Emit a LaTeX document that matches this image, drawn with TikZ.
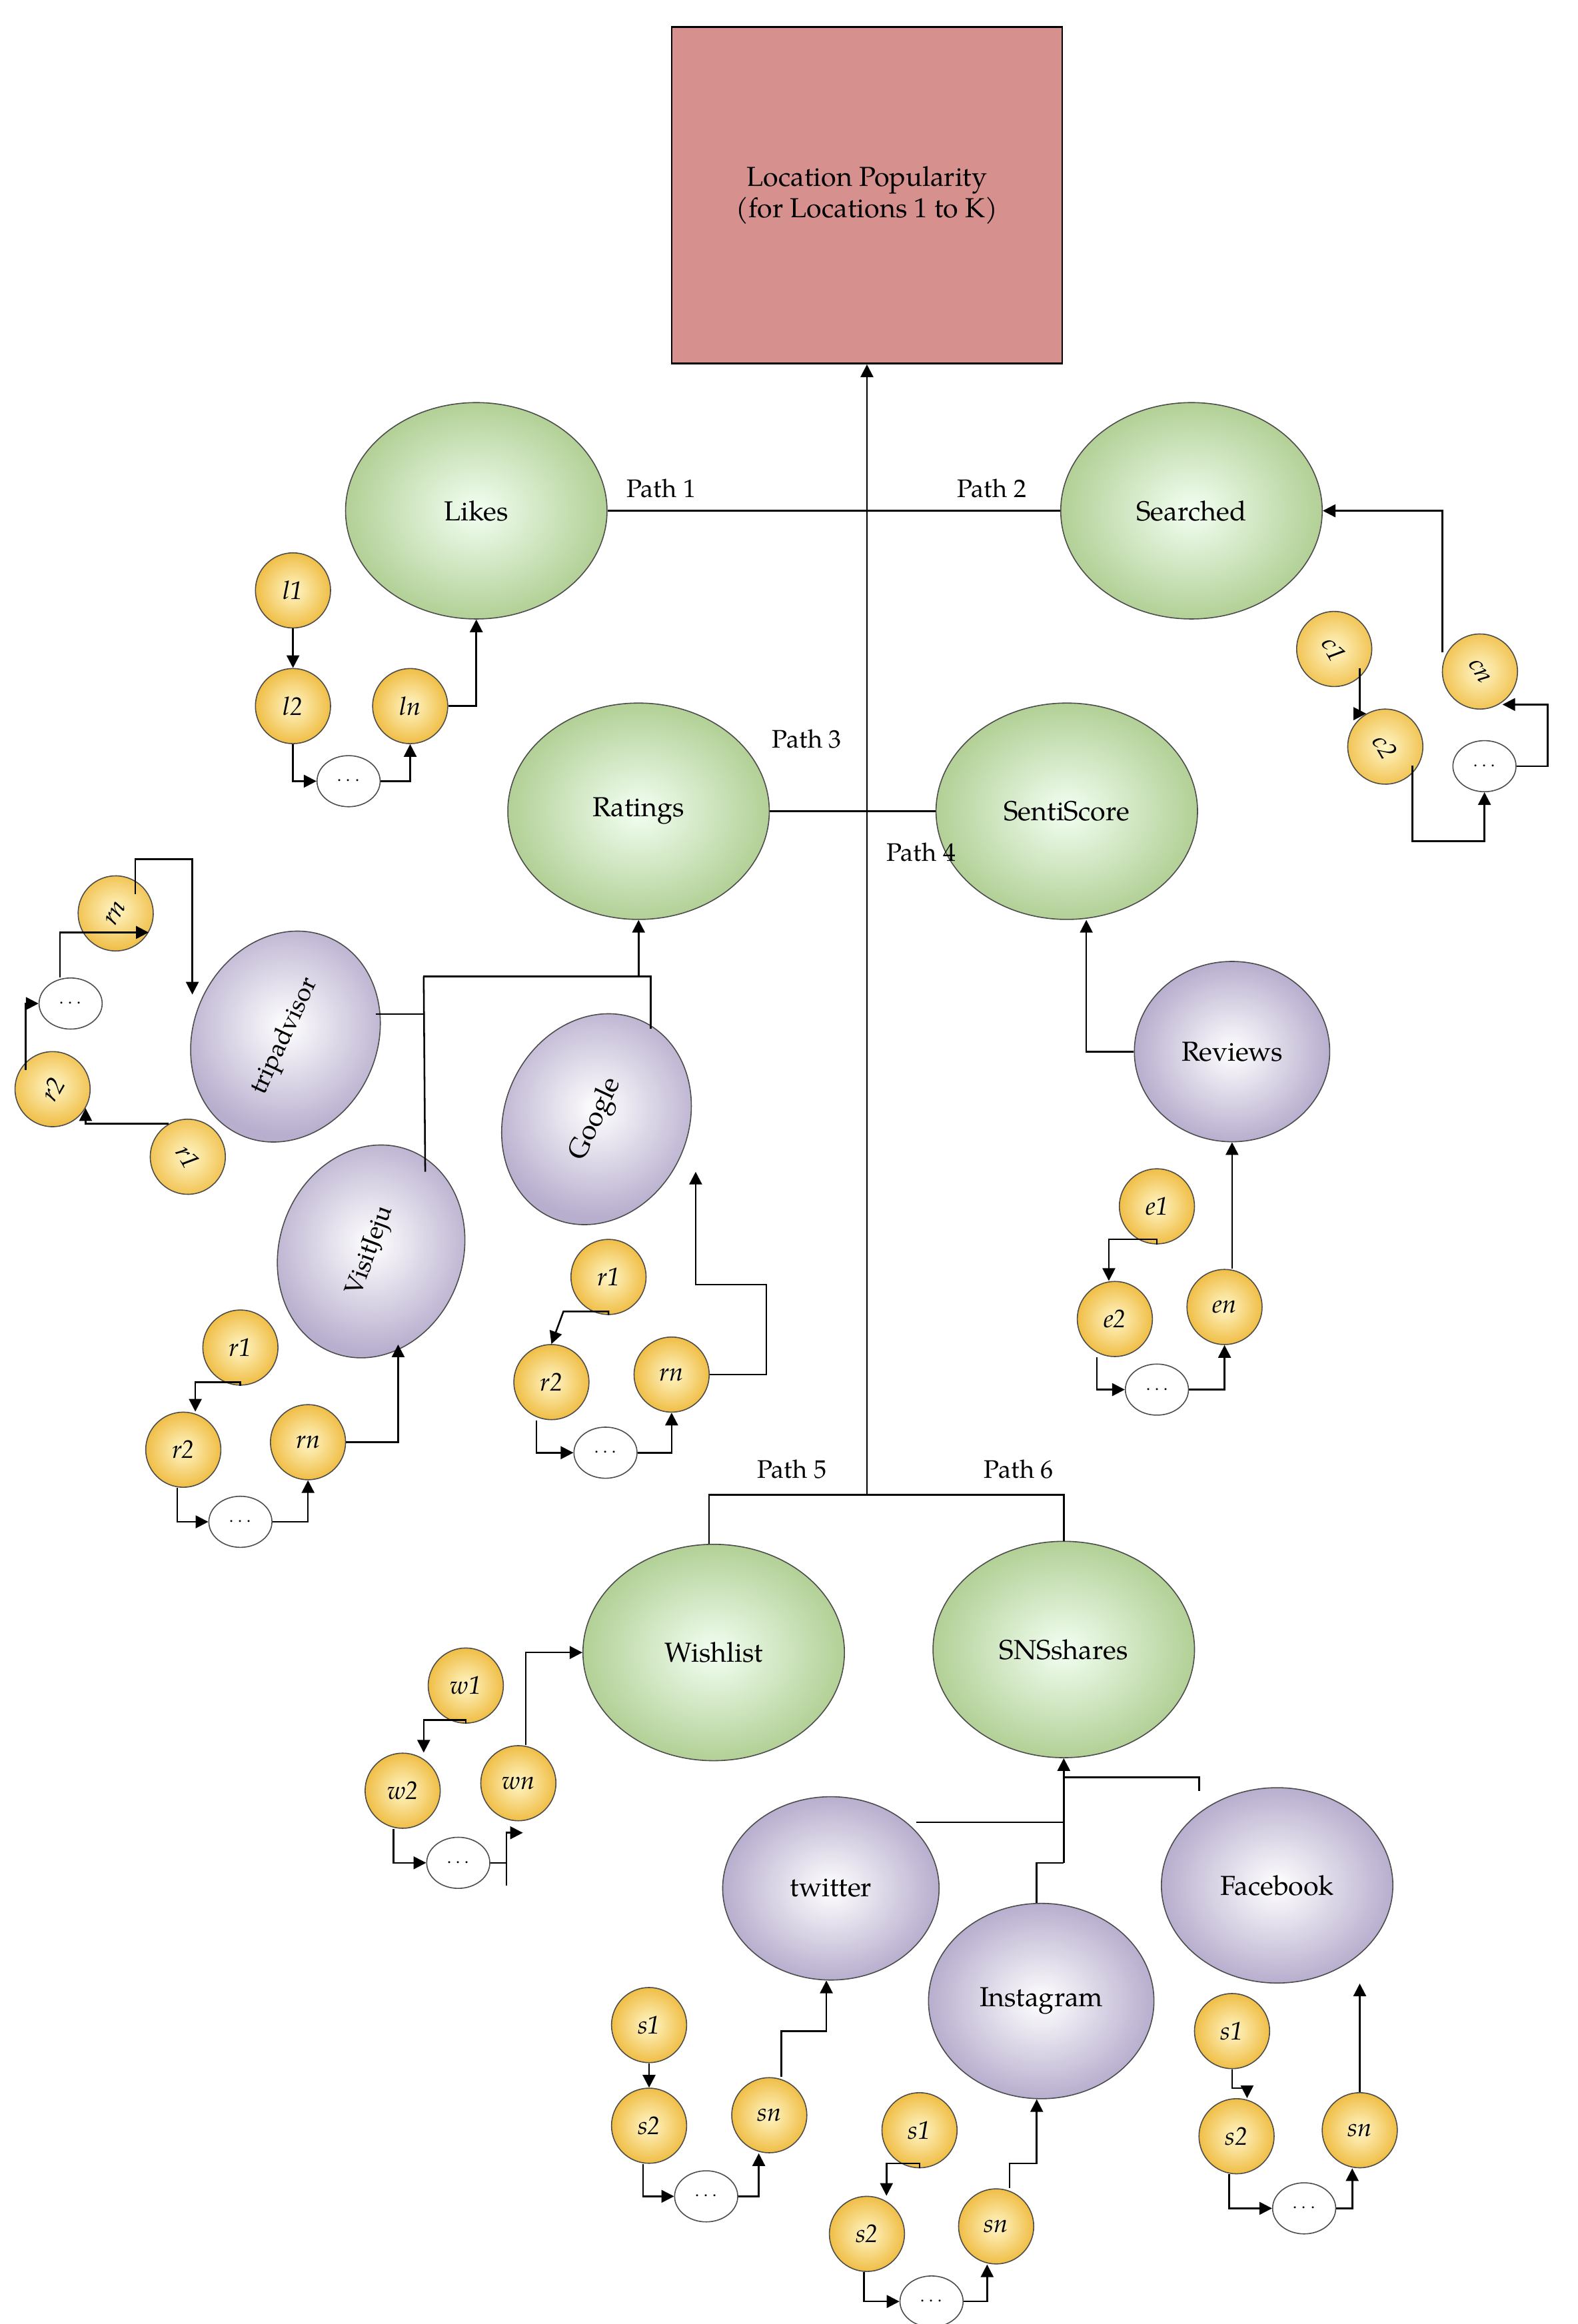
\documentclass[tikz,border=0pt]{standalone}
\usepackage{fontspec}
\setmainfont{TeX Gyre Pagella}
\usetikzlibrary{shapes.geometric,arrows.meta}
\begin{document}
\begin{tikzpicture}[x=0.025cm,y=-0.025cm,
  every node/.style={font=\fontsize{13}{15}\selectfont},
  ln/.style={line width=0.8pt},
  ar/.style={line width=0.8pt,-{Triangle[length=6pt,width=6pt]}},
  big/.style={ellipse,draw=black!70,line width=0.5pt,minimum width=4.35cm,minimum height=3.6cm,inner color=green!5,outer color={rgb,255:red,178;green,208;blue,150}},
  mid/.style={ellipse,draw=black!70,line width=0.5pt,minimum width=3.6cm,minimum height=3.05cm,inner color=white,outer color={rgb,255:red,184;green,174;blue,206}},
  sm/.style={circle,draw=black!70,line width=0.5pt,minimum size=1.25cm,inner sep=0pt,inner color={rgb,255:red,255;green,246;blue,200},outer color={rgb,255:red,240;green,190;blue,70},font=\itshape\fontsize{12}{14}\selectfont},
  dt/.style={ellipse,draw=black!70,line width=0.5pt,minimum width=1.05cm,minimum height=0.85cm,inner sep=0pt,fill=white,font=\fontsize{9}{10}\selectfont},
  pl/.style={font=\fontsize{12}{14}\selectfont}]
\useasboundingbox (0,0) rectangle (1050,1547);
\node[draw,line width=0.8pt,fill={rgb,255:red,214;green,145;blue,142},minimum width=6.5cm,minimum height=5.6cm,align=center] (box) at (577,130) {Location Popularity\\(for Locations 1 to K)};
\node[big] (likes) at (317,340) {Likes};
\node[big] (search) at (793,340) {Searched};
\node[big] (rat) at (425,540) {Ratings};
\node[big] (senti) at (710,540) {SentiScore};
\node[big] (wish) at (475,1100) {Wishlist};
\node[big] (sns) at (708,1098) {SNSshares};
\node[mid,rotate=65,font=\fontsize{12}{14}\selectfont] (trip) at (190,690) {tripadvisor};
\node[mid,rotate=65] (goog) at (397,745) {Google};
\node[mid,rotate=70,font=\fontsize{12}{14}\selectfont] (vj) at (247,833) {VisitJeju};
\node[mid,minimum width=3.25cm,minimum height=3cm] (rev) at (820,700) {Reviews};
\node[mid] (tw) at (553,1257) {twitter};
\node[mid,minimum width=3.75cm,minimum height=3.25cm] (ins) at (693,1332) {Instagram};
\node[mid,minimum width=3.85cm,minimum height=3.25cm] (fb) at (850,1255) {Facebook};
% main
\coordinate (m0) at (577,995);
\draw[ar] (m0) -- (box.south);
\draw[ln] (likes.east) -- (search.west);
\node[pl] (p1) at (440,325) {Path 1};
\node[pl] (p2) at (660,325) {Path 2};
\draw[ln] (rat.east) -- (senti.west);
\node[pl] (p3) at (537,492) {Path 3};
\node[pl] (p4) at (613,567) {Path 4};
\coordinate (w0) at (472,995); \coordinate (s0) at (708,995);
\draw[ln] (wish.north -| w0) -- (w0) -- (s0) -- (sns.north);
\node[pl] (p5) at (527,978) {Path 5};
\node[pl] (p6) at (678,978) {Path 6};
% likes group
\node[sm] (l1) at (195,393) {l1};
\node[sm] (l2) at (195,470) {l2};
\node[sm] (lnn) at (273,470) {ln};
\node[dt] (ld) at (232,520) {$\cdots$};
\draw[ar] (l1.south) -- (l2.north);
\draw[ar] (l2.south) |- (ld.west);
\draw[ar] (ld.east) -| (lnn.south);
\draw[ar] (lnn.east) -| (likes.south);
% searched group
\node[sm,rotate=-60] (c1) at (888,432) {c1};
\node[sm,rotate=-60] (c2) at (922,497) {c2};
\node[sm,rotate=-60] (cn) at (985,447) {cn};
\node[dt] (cd) at (988,510) {$\cdots$};
\draw[ar] (cn.north -| 960,0) |- (search.east);
\draw[ar] (c1.south -| 905,0) |- (c2.west);
\draw[ar] (c2.south -| 940,0) -- (940,560) -| (cd.south);
\draw[ar] (cd.east) -- (1030,510) |- (cn.east -| 1000,0);
% ratings sources
\coordinate (rj) at (425,650);
\coordinate (tj) at (282,650);
\coordinate (gj) at (433,650);
\draw[ln] (250,675) -- (282,675) -- (tj) -- (gj) -- (433,685);
\draw[ln] (283,780) -- (tj);
\draw[ar] (rj) -- (rat.south);
% tripadvisor group
\node[sm,rotate=60] (trn) at (77,608) {rn};
\node[dt] (td) at (47,668) {$\cdots$};
\node[sm,rotate=60] (tr2) at (35,725) {r2};
\node[sm,rotate=-60] (tr1) at (125,770) {r1};
\draw[ar] (tr1.west) -| (tr2.south);
\draw[ar] (tr2.north -| 17,0) |- (td.west);
\draw[ar] (td.north -| 40,0) |- (trn.south);
\draw[ar] (trn.north -| 90,0) -- (90,572) -- (128,572) -- (128,662);
% google group
\node[sm] (gr1) at (405,850) {r1};
\node[sm] (gr2) at (367,920) {r2};
\node[sm] (grn) at (447,915) {rn};
\node[dt] (gd) at (403,967) {$\cdots$};
\draw[ar] (gr1.south) |- (375,873) -- (gr2.north);
\draw[ar] (gr2.south -| 357,0) |- (gd.west);
\draw[ar] (gd.east) -| (grn.south);
\draw[ar] (grn.east) -- (510,915) -- (510,855) -- (463,855) -- (463,780);
% visitjeju group
\node[sm] (vr1) at (160,897) {r1};
\node[sm] (vr2) at (122,965) {r2};
\node[sm] (vrn) at (205,960) {rn};
\node[dt] (vd) at (160,1013) {$\cdots$};
\draw[ar] (vr1.south) |- (130,920) -- (vr2.north -| 130,0);
\draw[ar] (vr2.south -| 118,0) |- (vd.west);
\draw[ar] (vd.east) -| (vrn.south);
\draw[ar] (vrn.east) -| (265,895);
% reviews
\draw[ar] (rev.west) -| (senti.south -| 723,0);
\node[sm] (e1) at (770,803) {e1};
\node[sm] (e2) at (742,878) {e2};
\node[sm] (en) at (815,870) {en};
\node[dt] (ed) at (770,925) {$\cdots$};
\draw[ar] (e1.south) |- (738,825) -- (e2.north -| 738,0);
\draw[ar] (e2.south -| 730,0) |- (ed.west);
\draw[ar] (ed.east) -| (en.south);
\draw[ar] (en.north -| 820,0) -- (rev.south -| 820,0);
% wishlist
\node[sm] (w1) at (310,1122) {w1};
\node[sm] (w2) at (268,1192) {w2};
\node[sm] (wn) at (345,1187) {wn};
\node[dt] (wd) at (305,1240) {$\cdots$};
\draw[ar] (wn.north -| 350,0) |- (wish.west);
\draw[ar] (w1.south) |- (282,1145) -- (w2.north -| 282,0);
\draw[ar] (w2.south -| 262,0) |- (wd.west);
\draw[ln] (wd.east) -- (337,1240) -- (337,1255);
\draw[ar] (337,1255) -- (337,1220) -- (348,1220);
% sns
\coordinate (sj) at (708,1240);
\draw[ar] (sj) -- (sns.south);
\draw[ln] (610,1213) -- (708,1213);
\draw[ln] (ins.north -| 690,0) -- (690,1240) -- (sj);
\draw[ln] (708,1183) -- (798,1183) -- (798,1192);
% twitter
\node[sm] (t1) at (432,1348) {s1};
\node[sm] (t2) at (432,1415) {s2};
\node[sm] (tn) at (512,1408) {sn};
\node[dt] (tdd) at (470,1462) {$\cdots$};
\draw[ar] (t1.south) -- (t2.north);
\draw[ar] (t2.south -| 428,0) |- (tdd.west);
\draw[ar] (tdd.east) -| (tn.south -| 505,0);
\draw[ar] (tn.north -| 520,0) |- (550,1352) -- (tw.south -| 550,0);
% instagram
\node[sm] (i1) at (612,1418) {s1};
\node[sm] (i2) at (577,1487) {s2};
\node[sm] (inn) at (663,1482) {sn};
\node[dt] (idd) at (620,1532) {$\cdots$};
\draw[ar] (i1.south) |- (590,1440) -- (i2.north -| 590,0);
\draw[ar] (i2.south -| 575,0) |- (idd.west);
\draw[ar] (idd.east) -| (inn.south -| 657,0);
\draw[ar] (inn.north -| 672,0) |- (690,1440) -- (ins.south -| 690,0);
% facebook
\node[sm] (f1) at (820,1352) {s1};
\node[sm] (f2) at (823,1422) {s2};
\node[sm] (fn) at (905,1418) {sn};
\node[dt] (fdd) at (868,1470) {$\cdots$};
\draw[ar] (f1.south) |- (830,1390) -- (f2.north -| 830,0);
\draw[ar] (f2.south -| 818,0) |- (fdd.west);
\draw[ar] (fdd.east) -| (fn.south -| 900,0);
\draw[ar] (fn.north) -- (fb.south -| fn.north);
\end{tikzpicture}
\end{document}
